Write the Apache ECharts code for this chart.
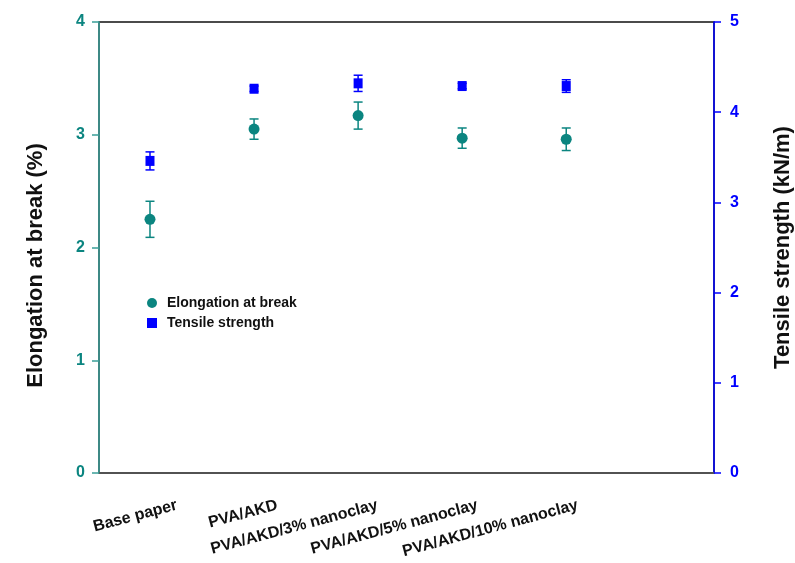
<!DOCTYPE html>
<html>
<head>
<meta charset="utf-8">
<script src="https://cdn.jsdelivr.net/npm/echarts@6/dist/echarts.min.js"></script>
<style>
  html, body { margin: 0; background: #fff; }
  #chart { width: 795px; height: 563px; }
</style>
</head>
<body>
<div id="chart"></div>
<script>
// sample names along the x axis
const samples = ["Base paper", "PVA/AKD", "PVA/AKD/3% nanoclay", "PVA/AKD/5% nanoclay", "PVA/AKD/10% nanoclay"];
// values
const elongation = [2.25, 3.05, 3.17, 2.97, 2.96];
const elongationErr = [0.16, 0.09, 0.12, 0.09, 0.10];
const tensile = [3.46, 4.26, 4.32, 4.29, 4.29];
const tensileErr = [0.10, 0.03, 0.09, 0.03, 0.07];
// tick values
const elongTicks = [0, 1, 2, 3, 4];
const tensileTicks = [0, 1, 2, 3, 4, 5];

const teal = "#0b8580";
const blue = "#0000ff";
const font = "'Liberation Sans', Arial, sans-serif";

const xPos = samples.map((_, i) => i + 1);

function errorBar(color, capW) {
  return function (params, api) {
    const x = api.value(0);
    const lo = api.coord([x, api.value(1)]);
    const hi = api.coord([x, api.value(2)]);
    const style = { stroke: color, lineWidth: 1.5 };
    return {
      type: "group",
      children: [
        { type: "line", shape: { x1: lo[0], y1: lo[1], x2: hi[0], y2: hi[1] }, style },
        { type: "line", shape: { x1: lo[0] - capW / 2, y1: lo[1], x2: lo[0] + capW / 2, y2: lo[1] }, style },
        { type: "line", shape: { x1: hi[0] - capW / 2, y1: hi[1], x2: hi[0] + capW / 2, y2: hi[1] }, style }
      ]
    };
  };
}

const chart = echarts.init(document.getElementById("chart"));

const option = {
  animation: false,
  backgroundColor: "#fff",
  grid: {
    left: 99, right: 81, top: 22, bottom: 90,
    outerBoundsMode: "none",
    show: true, borderColor: "#111", borderWidth: 1.5
  },
  legend: {
    orient: "vertical",
    left: 142,
    top: 291,
    itemWidth: 10,
    itemHeight: 10,
    itemGap: 6,
    data: [
      { name: "Elongation at break", icon: "circle" },
      { name: "Tensile strength", icon: "rect" }
    ],
    textStyle: { fontFamily: font, fontWeight: "bold", fontSize: 14, color: "#111", padding: [0, 0, 0, 5] }
  },
  xAxis: [
    {
      // scale for the points
      type: "value",
      min: 0.51,
      max: 6.42,
      show: false
    },
    {
      // scale for the sample names
      type: "value",
      min: 0.222,
      max: 6.36,
      position: "bottom",
      axisLine: { show: true, lineStyle: { color: "#555", width: 1.5 } },
      axisTick: { show: false },
      splitLine: { show: false },
      axisLabel: {
        customValues: xPos,
        rotate: 15,
        margin: 32,
        formatter: (v) => samples[Math.round(v) - 1] || "",
        fontFamily: font,
        fontWeight: "bold",
        fontSize: 16,
        color: "#111"
      }
    }
  ],
  yAxis: [
    {
      type: "value",
      position: "left",
      min: elongTicks[0],
      max: elongTicks[elongTicks.length - 1],
      interval: 1,
      name: "Elongation at break (%)",
      nameLocation: "middle",
      nameGap: 52,
      nameTextStyle: { fontFamily: font, fontWeight: "bold", fontSize: 22, color: "#111", padding: [0, 36, 0, 0] },
      axisLine: { show: true, lineStyle: { color: "#3a9e98", width: 1.5 } },
      axisTick: { show: true, length: 7, lineStyle: { color: "#3a9e98", width: 1.5 } },
      axisLabel: { margin: 14, fontFamily: font, fontWeight: "bold", fontSize: 16, color: teal },
      splitLine: { show: false }
    },
    {
      type: "value",
      position: "right",
      min: tensileTicks[0],
      max: tensileTicks[tensileTicks.length - 1],
      interval: 1,
      name: "Tensile strength (kN/m)",
      nameLocation: "middle",
      nameGap: 58,
      nameTextStyle: { fontFamily: font, fontWeight: "bold", fontSize: 22, color: "#111" },
      axisLine: { show: true, lineStyle: { color: blue, width: 1.5 } },
      axisTick: { show: true, length: 7, lineStyle: { color: blue, width: 1.5 } },
      axisLabel: { margin: 16, fontFamily: font, fontWeight: "bold", fontSize: 16, color: blue },
      splitLine: { show: false }
    }
  ],
  series: [
    {
      name: "elongation error",
      type: "custom",
      xAxisIndex: 0,
      yAxisIndex: 0,
      renderItem: errorBar(teal, 9),
      encode: { x: 0, y: [1, 2] },
      data: xPos.map((x, i) => [x, elongation[i] - elongationErr[i], elongation[i] + elongationErr[i]]),
      z: 1
    },
    {
      name: "tensile error",
      type: "custom",
      xAxisIndex: 0,
      yAxisIndex: 1,
      renderItem: errorBar(blue, 9),
      encode: { x: 0, y: [1, 2] },
      data: xPos.map((x, i) => [x, tensile[i] - tensileErr[i], tensile[i] + tensileErr[i]]),
      z: 1
    },
    {
      name: "Elongation at break",
      type: "scatter",
      xAxisIndex: 0,
      yAxisIndex: 0,
      symbol: "circle",
      symbolSize: 11,
      itemStyle: { color: teal, opacity: 1 },
      data: xPos.map((x, i) => [x, elongation[i]]),
      z: 3
    },
    {
      name: "Tensile strength",
      type: "scatter",
      xAxisIndex: 0,
      yAxisIndex: 1,
      symbol: "rect",
      symbolSize: [9, 10],
      itemStyle: { color: blue, opacity: 1 },
      data: xPos.map((x, i) => [x, tensile[i]]),
      z: 3
    }
  ]
};

chart.setOption(option);
window.addEventListener("resize", () => chart.resize());
</script>
</body>
</html>
